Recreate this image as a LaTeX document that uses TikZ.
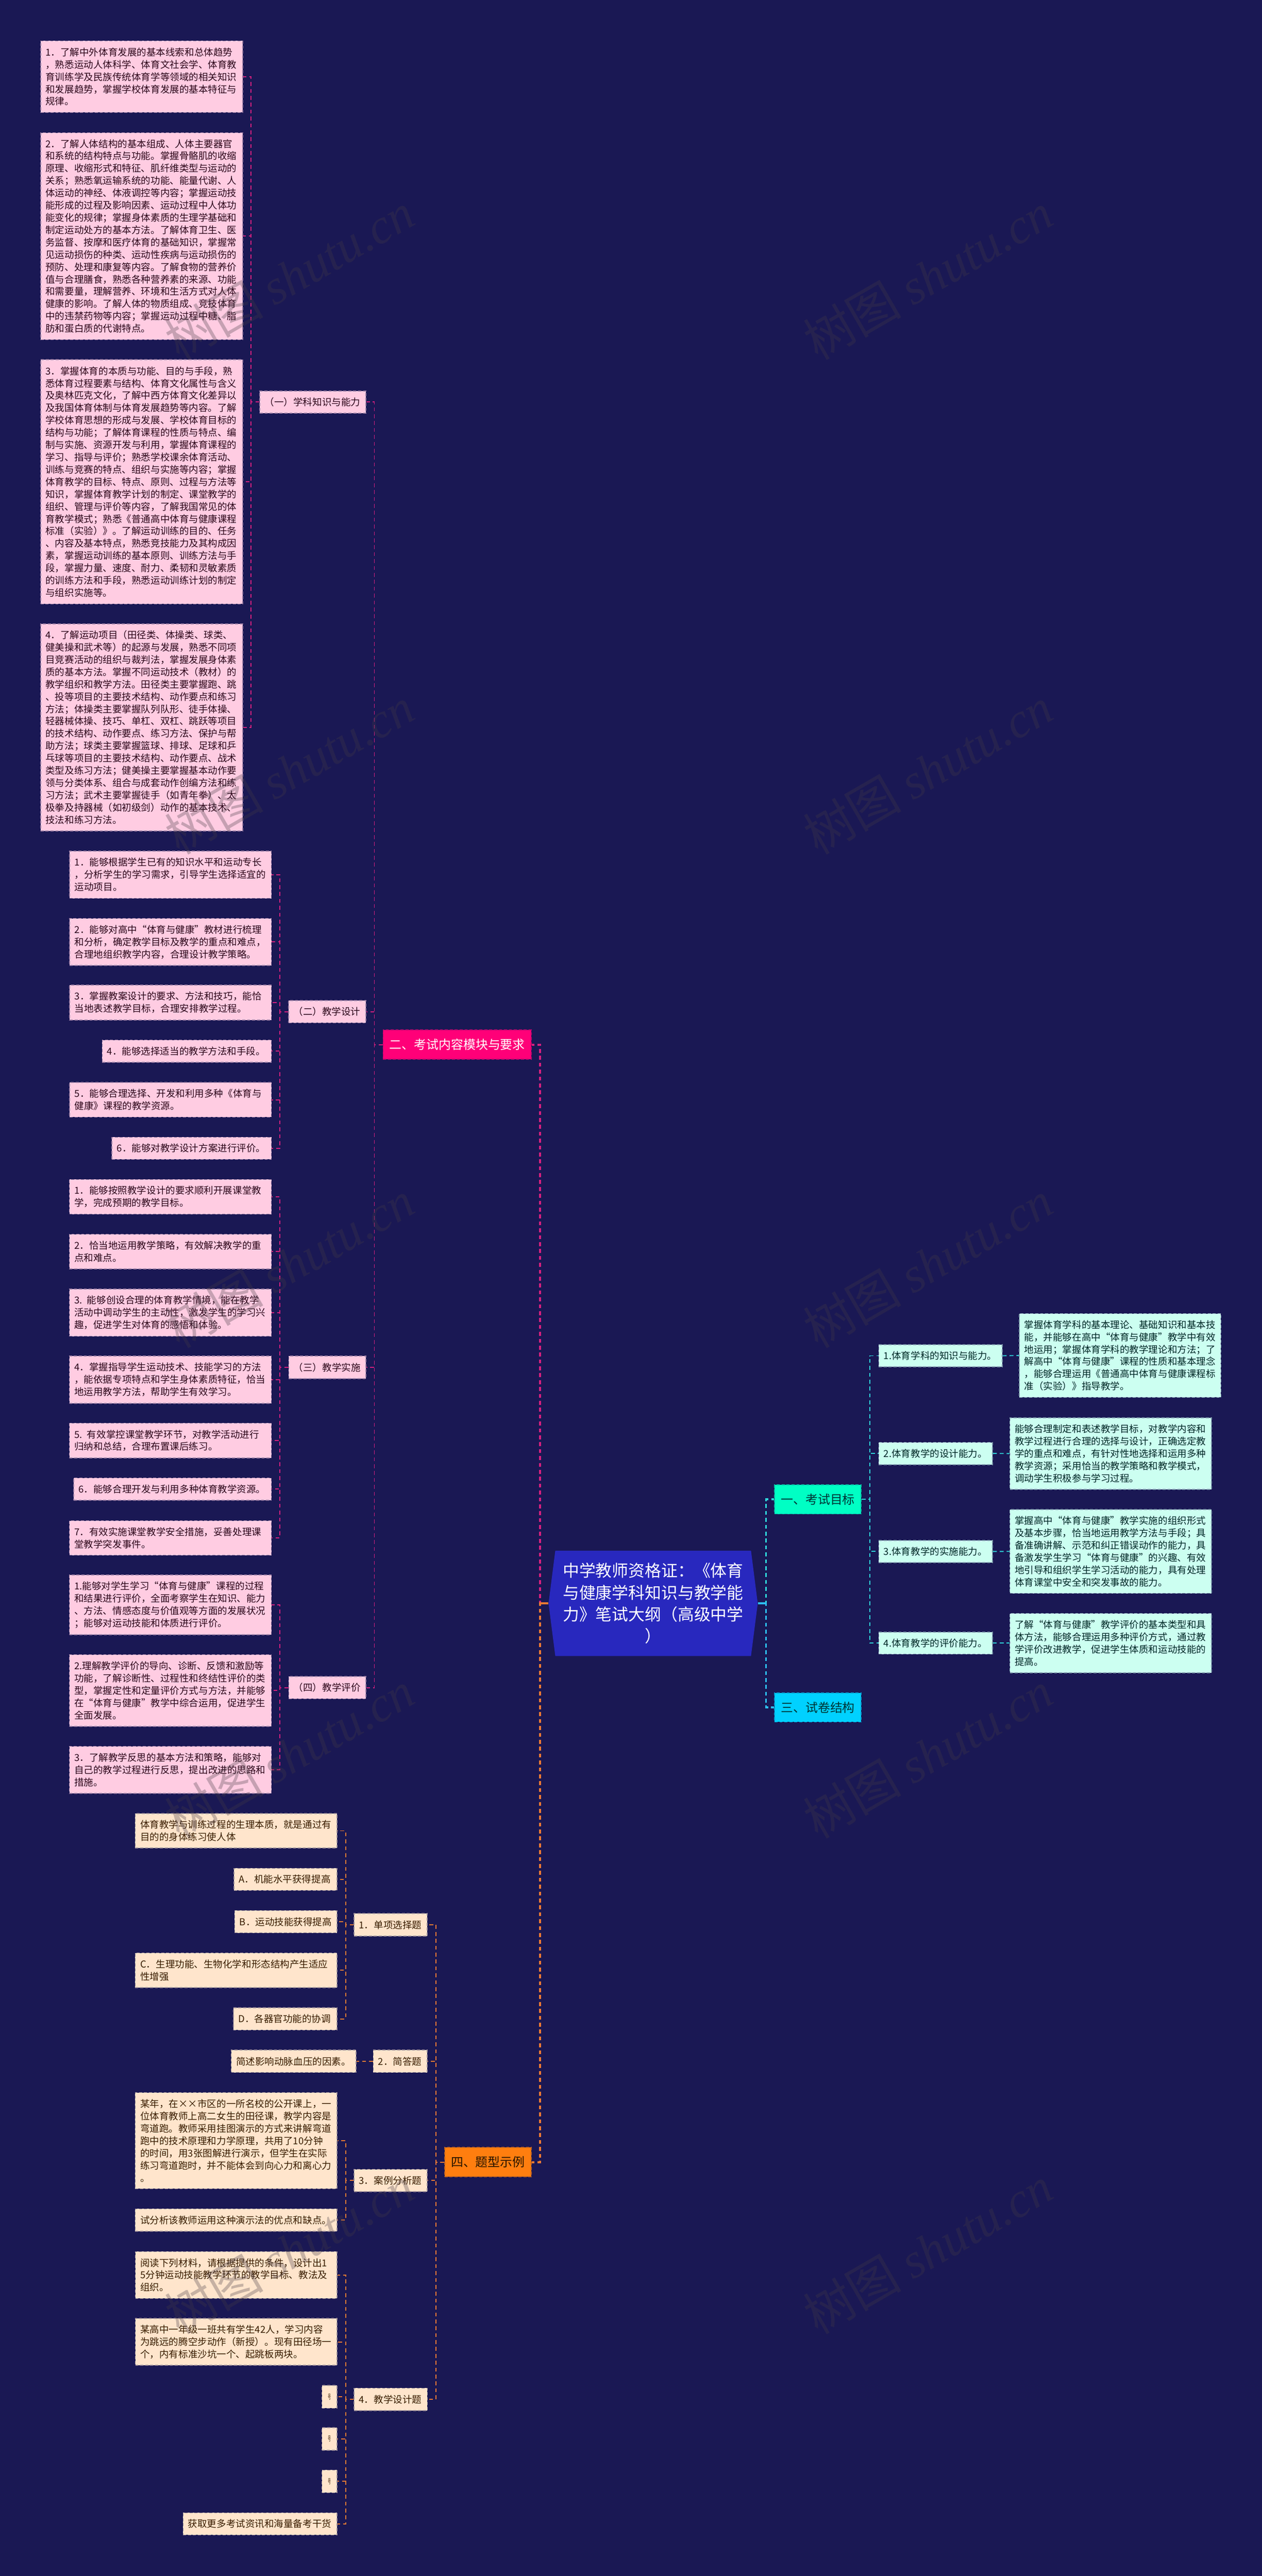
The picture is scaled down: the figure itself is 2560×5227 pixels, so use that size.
\documentclass[tikz,border=0pt]{standalone}
\usepackage{fontspec}
\usepackage{graphicx}
\setmainfont{Noto Sans CJK SC}
\newfontfamily\wmlatin{Liberation Serif}[ItalicFont=* Italic]
\definecolor{bgc}{HTML}{1A1854}
\definecolor{pinkbox}{HTML}{FFCCE2}
\definecolor{peachbox}{HTML}{FFE5CC}
\definecolor{mintbox}{HTML}{CCFFF1}
\definecolor{pinkmain}{HTML}{FF0078}
\definecolor{orangemain}{HTML}{FF7E0F}
\definecolor{mintmain}{HTML}{00FFC4}
\definecolor{cyanmain}{HTML}{00D1FF}
\definecolor{pinkline}{HTML}{D6207F}
\definecolor{orangeline}{HTML}{EC7A33}
\definecolor{tealline}{HTML}{2FD6DA}
\definecolor{cyanline}{HTML}{2DBEF0}
\definecolor{rootfill}{HTML}{2828BE}
\definecolor{wmc}{HTML}{443C46}
\tikzset{
  x=1pt,y=-1pt,
  wire/.style={line width=2pt,dash pattern=on 8pt off 6pt},
  wiremain/.style={line width=4pt,dash pattern=on 8pt off 6pt},
  solidstub/.style={line width=4pt},
  boxbase/.style={rectangle,inner xsep=10pt,inner ysep=0pt,align=left,line width=1.6pt,
    dash pattern=on 6pt off 4pt,font=\fontsize{19.4}{25}\selectfont},
  pinkbx/.style={boxbase,fill=pinkbox,draw=pinkbox!55!bgc,text=black!80!pinkline},
  peachbx/.style={boxbase,fill=peachbox,draw=peachbox!55!bgc,text=black!78!orange},
  mintbx/.style={boxbase,fill=mintbox,draw=mintbox!55!bgc,text=black!70!teal},
  mainbase/.style={rectangle,inner xsep=6pt,inner ysep=0pt,align=center,line width=1.6pt,
    dash pattern=on 6pt off 4pt,font=\fontsize{25}{32}\selectfont},
  mainpink/.style={mainbase,fill=pinkmain,draw=pinkmain!70!bgc,text=white},
  mainorange/.style={mainbase,fill=orangemain,draw=orangemain!70!bgc,text=black!85!orange},
  mainmint/.style={mainbase,fill=mintmain,draw=mintmain!70!bgc,text=black!60!teal},
  maincyan/.style={mainbase,fill=cyanmain,draw=cyanmain!70!bgc,text=black!60!teal},
  rootnode/.style={rectangle,inner xsep=26pt,inner ysep=0pt,align=center,text=white,
    font=\fontsize{33.3}{44}\selectfont},
  wmark/.style={rotate=30,anchor=west,text=wmc,opacity=.3,inner sep=0pt,
    font=\fontsize{100}{110}\selectfont},
}
% name, style, x1,y1,x2,y2, text
\newcommand{\bx}[7]{%
  \pgfmathsetmacro{\bxw}{#5-#3}%
  \pgfmathsetmacro{\bxh}{#6-#4}%
  \pgfmathsetmacro{\bxcx}{(#3+#5)/2}%
  \pgfmathsetmacro{\bxcy}{(#4+#6)/2}%
  \node[#2,minimum width=\bxw pt,minimum height=\bxh pt,text width=\bxw pt-20pt] (#1) at (\bxcx,\bxcy) {#7};}
\newcommand{\mainbx}[7]{%
  \pgfmathsetmacro{\bxw}{#5-#3}%
  \pgfmathsetmacro{\bxh}{#6-#4}%
  \pgfmathsetmacro{\bxcx}{(#3+#5)/2}%
  \pgfmathsetmacro{\bxcy}{(#4+#6)/2}%
  \node[#2,minimum width=\bxw pt,minimum height=\bxh pt] (#1) at (\bxcx,\bxcy) {#7};}
% style, parent, bus, child: child to the left of its parent
\newcommand{\lnk}[4]{\draw[#1] (#2.west) -- (#2.west -| #3) -- (#3 |- #4.east) -- (#4.east);}
% style, parent, bus, child: child to the right of its parent
\newcommand{\rnk}[4]{\draw[#1] (#2.east) -- (#2.east -| #3) -- (#3 |- #4.west) -- (#4.west);}
\begin{document}
\begin{tikzpicture}
\useasboundingbox (0,0) rectangle (2560,5227);
\fill[bgc] (0,0) rectangle (2560,5227);
\coordinate (bA) at (509.5,0);
\coordinate (bB) at (567.5,0);
\coordinate (bC) at (759.5,0);
\coordinate (bD) at (1095.5,0);
\coordinate (bE) at (1554,0);
\coordinate (bF) at (1764.8,0);
\coordinate (bG) at (701,0);
\coordinate (bH) at (884.3,0);

% root
\fill[rootfill] (1126.5,3146.4) -- (1523.5,3146.4) -- (1537.2,3253.4) -- (1523.5,3360.3) -- (1126.5,3360.3) -- (1112.8,3253.4) -- cycle;
\mainbx{root}{rootnode}{1112.8}{3146.4}{1537.2}{3360.3}{中学教师资格证：《体育\\与健康学科知识与教学能\\力》笔试大纲（高级中学\\）}

% main branches
\mainbx{mB}{mainpink}{777}{2090}{1078}{2149.5}{二、考试内容模块与要求}
\mainbx{mD}{mainorange}{902}{4357.3}{1077.7}{4417}{四、题型示例}
\mainbx{mA}{mainmint}{1571.4}{3012.9}{1747}{3072}{一、考试目标}
\mainbx{mC}{maincyan}{1571.4}{3435}{1747}{3494.2}{三、试卷结构}

% section 1
\bx{s1}{pinkbx}{527}{793.2}{742.3}{838.2}{（一）学科知识与能力}
\bx{s1a}{pinkbx}{82.4}{83.1}{492.6}{228.4}{1．了解中外体育发展的基本线索和总体趋势\\，熟悉运动人体科学、体育文社会学、体育教\\育训练学及民族传统体育学等领域的相关知识\\和发展趋势，掌握学校体育发展的基本特征与\\规律。}
\bx{s1b}{pinkbx}{82.4}{269.2}{492.6}{689.2}{2．了解人体结构的基本组成、人体主要器官\\和系统的结构特点与功能。掌握骨骼肌的收缩\\原理、收缩形式和特征、肌纤维类型与运动的\\关系；熟悉氧运输系统的功能、能量代谢、人\\体运动的神经、体液调控等内容；掌握运动技\\能形成的过程及影响因素、运动过程中人体功\\能变化的规律；掌握身体素质的生理学基础和\\制定运动处方的基本方法。了解体育卫生、医\\务监督、按摩和医疗体育的基础知识，掌握常\\见运动损伤的种类、运动性疾病与运动损伤的\\预防、处理和康复等内容。了解食物的营养价\\值与合理膳食，熟悉各种营养素的来源、功能\\和需要量，理解营养、环境和生活方式对人体\\健康的影响。了解人体的物质组成、竞技体育\\中的违禁药物等内容；掌握运动过程中糖、脂\\肪和蛋白质的代谢特点。}
\bx{s1c}{pinkbx}{82.4}{729.6}{492.6}{1225.7}{3．掌握体育的本质与功能、目的与手段，熟\\悉体育过程要素与结构、体育文化属性与含义\\及奥林匹克文化，了解中西方体育文化差异以\\及我国体育体制与体育发展趋势等内容。了解\\学校体育思想的形成与发展、学校体育目标的\\结构与功能；了解体育课程的性质与特点、编\\制与实施、资源开发与利用，掌握体育课程的\\学习、指导与评价；熟悉学校课余体育活动、\\训练与竞赛的特点、组织与实施等内容；掌握\\体育教学的目标、特点、原则、过程与方法等\\知识，掌握体育教学计划的制定、课堂教学的\\组织、管理与评价等内容，了解我国常见的体\\育教学模式；熟悉《普通高中体育与健康课程\\标准（实验）》。了解运动训练的目的、任务\\、内容及基本特点，熟悉竞技能力及其构成因\\素，掌握运动训练的基本原则、训练方法与手\\段，掌握力量、速度、耐力、柔韧和灵敏素质\\的训练方法和手段，熟悉运动训练计划的制定\\与组织实施等。}
\bx{s1d}{pinkbx}{82.4}{1265.7}{492.6}{1686}{4．了解运动项目（田径类、体操类、球类、\\健美操和武术等）的起源与发展，熟悉不同项\\目竞赛活动的组织与裁判法，掌握发展身体素\\质的基本方法。掌握不同运动技术（教材）的\\教学组织和教学方法。田径类主要掌握跑、跳\\、投等项目的主要技术结构、动作要点和练习\\方法；体操类主要掌握队列队形、徒手体操、\\轻器械体操、技巧、单杠、双杠、跳跃等项目\\的技术结构、动作要点、练习方法、保护与帮\\助方法；球类主要掌握篮球、排球、足球和乒\\乓球等项目的主要技术结构、动作要点、战术\\类型及练习方法；健美操主要掌握基本动作要\\领与分类体系、组合与成套动作创编方法和练\\习方法；武术主要掌握徒手（如青年拳）、太\\极拳及持器械（如初级剑）动作的基本技术、\\技法和练习方法。}

% section 2
\bx{s2}{pinkbx}{585.5}{2030}{742.3}{2075.5}{（二）教学设计}
\bx{s2a}{pinkbx}{141.4}{1726.9}{550.4}{1822.7}{1．能够根据学生已有的知识水平和运动专长\\，分析学生的学习需求，引导学生选择适宜的\\运动项目。}
\bx{s2b}{pinkbx}{141.4}{1863.5}{550.4}{1958.9}{2．能够对高中“体育与健康”教材进行梳理\\和分析，确定教学目标及教学的重点和难点，\\合理地组织教学内容，合理设计教学策略。}
\bx{s2c}{pinkbx}{141.4}{1998.8}{550.4}{2069.9}{3．掌握教案设计的要求、方法和技巧，能恰\\当地表述教学目标，合理安排教学过程。}
\bx{s2d}{pinkbx}{207.3}{2110.2}{550.4}{2155.8}{4．能够选择适当的教学方法和手段。}
\bx{s2e}{pinkbx}{141.4}{2196.5}{550.4}{2266.8}{5．能够合理选择、开发和利用多种《体育与\\健康》课程的教学资源。}
\bx{s2f}{pinkbx}{227}{2307.5}{550.4}{2352.6}{6．能够对教学设计方案进行评价。}

% section 3
\bx{s3}{pinkbx}{585.7}{2751.6}{742.3}{2797.6}{（三）教学实施}
\bx{s3a}{pinkbx}{140.8}{2393.4}{550.5}{2463.6}{1．能够按照教学设计的要求顺利开展课堂教\\学，完成预期的教学目标。}
\bx{s3b}{pinkbx}{140.8}{2504.4}{550.5}{2575}{2．恰当地运用教学策略，有效解决教学的重\\点和难点。}
\bx{s3c}{pinkbx}{140.8}{2615.4}{550.5}{2711.3}{3. 能够创设合理的体育教学情境，能在教学\\活动中调动学生的主动性，激发学生的学习兴\\趣，促进学生对体育的感悟和体验。}
\bx{s3d}{pinkbx}{140.8}{2751.6}{550.5}{2847.4}{4．掌握指导学生运动技术、技能学习的方法\\，能依据专项特点和学生身体素质特征，恰当\\地运用教学方法，帮助学生有效学习。}
\bx{s3e}{pinkbx}{140.8}{2887.7}{550.5}{2958.4}{5. 有效掌控课堂教学环节，对教学活动进行\\归纳和总结，合理布置课后练习。}
\bx{s3f}{pinkbx}{149.5}{2998.8}{550.5}{3044.3}{6．能够合理开发与利用多种体育教学资源。}
\bx{s3g}{pinkbx}{140.8}{3085.5}{550.5}{3155.7}{7．有效实施课堂教学安全措施，妥善处理课\\堂教学突发事件。}

% section 4
\bx{s4}{pinkbx}{585.7}{3401.6}{742.3}{3447}{（四）教学评价}
\bx{s4a}{pinkbx}{140.8}{3196}{550.5}{3317}{1.能够对学生学习“体育与健康”课程的过程\\和结果进行评价，全面考察学生在知识、能力\\、方法、情感态度与价值观等方面的发展状况\\；能够对运动技能和体质进行评价。}
\bx{s4b}{pinkbx}{140.8}{3357.4}{550.5}{3503}{2.理解教学评价的导向、诊断、反馈和激励等\\功能，了解诊断性、过程性和终结性评价的类\\型，掌握定性和定量评价方式与方法，并能够\\在“体育与健康”教学中综合运用，促进学生\\全面发展。}
\bx{s4c}{pinkbx}{140.8}{3543.4}{550.5}{3638.8}{3．了解教学反思的基本方法和策略，能够对\\自己的教学过程进行反思，提出改进的思路和\\措施。}

% question types
\bx{q1}{peachbx}{718.3}{3882.7}{866.8}{3928.7}{1．单项选择题}
\bx{q1s}{peachbx}{274.4}{3679.5}{683.6}{3750}{体育教学与训练过程的生理本质，就是通过有\\目的的身体练习使人体}
\bx{q1a}{peachbx}{474.4}{3790.9}{683.6}{3836}{A．机能水平获得提高}
\bx{q1b}{peachbx}{476}{3876.6}{683.6}{3922}{B．运动技能获得提高}
\bx{q1c}{peachbx}{274.4}{3962.7}{683.6}{4033}{C．生理功能、生物化学和形态结构产生适应\\性增强}
\bx{q1d}{peachbx}{473.3}{4073.7}{683.6}{4119.2}{D．各器官功能的协调}
\bx{q2}{peachbx}{757.3}{4159.8}{866.8}{4205.3}{2．简答题}
\bx{q2a}{peachbx}{469}{4159.8}{722.6}{4205.3}{简述影响动脉血压的因素。}
\bx{q3}{peachbx}{718.3}{4401.7}{866.8}{4447.3}{3．案例分析题}
\bx{q3a}{peachbx}{274.4}{4246}{683.6}{4441.3}{某年，在××市区的一所名校的公开课上，一\\位体育教师上高二女生的田径课，教学内容是\\弯道跑。教师采用挂图演示的方式来讲解弯道\\跑中的技术原理和力学原理，共用了10分钟\\的时间，用3张图解进行演示，但学生在实际\\练习弯道跑时，并不能体会到向心力和离心力\\。}
\bx{q3b}{peachbx}{274.4}{4482}{683.6}{4527.3}{试分析该教师运用这种演示法的优点和缺点。}
\bx{q4}{peachbx}{718.3}{4845.7}{867}{4891.4}{4．教学设计题}
\bx{q4a}{peachbx}{274.6}{4568.7}{683.5}{4663.9}{阅读下列材料，请根据提供的条件，设计出1\\5分钟运动技能教学环节的教学目标、教法及\\组织。}
\bx{q4b}{peachbx}{274.6}{4704.2}{683.5}{4799.6}{某高中一年级一班共有学生42人，学习内容\\为跳远的腾空步动作（新授）。现有田径场一\\个，内有标准沙坑一个、起跳板两块。}
\mainbx{q4c}{peachbx,inner xsep=0pt,font=\fontsize{10}{12}\selectfont}{653}{4840.4}{683.5}{4886.5}{\scalebox{.6}[1.4]{号}}
\mainbx{q4d}{peachbx,inner xsep=0pt,font=\fontsize{10}{12}\selectfont}{653}{4926}{683.5}{4972}{\scalebox{.6}[1.4]{号}}
\mainbx{q4e}{peachbx,inner xsep=0pt,font=\fontsize{10}{12}\selectfont}{653}{5012}{683.5}{5058}{\scalebox{.6}[1.4]{号}}
\bx{q4f}{peachbx}{371.4}{5098.8}{683.5}{5143.7}{获取更多考试资讯和海量备考干货}

% objectives
\bx{o1}{mintbx}{1782.7}{2728.6}{2033.2}{2773.3}{1.体育学科的知识与能力。}
\bx{o1a}{mintbx}{2067.9}{2665.4}{2477}{2835.5}{掌握体育学科的基本理论、基础知识和基本技\\能，并能够在高中“体育与健康”教学中有效\\地运用；掌握体育学科的教学理论和方法；了\\解高中“体育与健康”课程的性质和基本理念\\，能够合理运用《普通高中体育与健康课程标\\准（实验）》指导教学。}
\bx{o2}{mintbx}{1782.7}{2926.6}{2013.3}{2971.8}{2.体育教学的设计能力。}
\bx{o2a}{mintbx}{2048.5}{2876.8}{2457.7}{3022}{能够合理制定和表述教学目标，对教学内容和\\教学过程进行合理的选择与设计，正确选定教\\学的重点和难点，有针对性地选择和运用多种\\教学资源；采用恰当的教学策略和教学模式，\\调动学生积极参与学习过程。}
\bx{o3}{mintbx}{1782.7}{3125.6}{2013.3}{3170.4}{3.体育教学的实施能力。}
\bx{o3a}{mintbx}{2048.5}{3062.9}{2457.7}{3233}{掌握高中“体育与健康”教学实施的组织形式\\及基本步骤，恰当地运用教学方法与手段；具\\备准确讲解、示范和纠正错误动作的能力，具\\备激发学生学习“体育与健康”的兴趣、有效\\地引导和组织学生学习活动的能力，具有处理\\体育课堂中安全和突发事故的能力。}
\bx{o4}{mintbx}{1782.7}{3311.6}{2013.3}{3356.4}{4.体育教学的评价能力。}
\bx{o4a}{mintbx}{2048.5}{3273.8}{2457.7}{3394.2}{了解“体育与健康”教学评价的基本类型和具\\体方法，能够合理运用多种评价方式，通过教\\学评价改进教学，促进学生体质和运动技能的\\提高。}

% connectors
\begin{scope}[pinkline]
\lnk{wiremain}{root}{bD}{mB}
\lnk{wire}{mB}{bC}{s1}\lnk{wire}{mB}{bC}{s2}\lnk{wire}{mB}{bC}{s3}\lnk{wire}{mB}{bC}{s4}
\lnk{wire}{s1}{bA}{s1a}\lnk{wire}{s1}{bA}{s1b}\lnk{wire}{s1}{bA}{s1c}\lnk{wire}{s1}{bA}{s1d}
\lnk{wire}{s2}{bB}{s2a}\lnk{wire}{s2}{bB}{s2b}\lnk{wire}{s2}{bB}{s2c}\lnk{wire}{s2}{bB}{s2d}\lnk{wire}{s2}{bB}{s2e}\lnk{wire}{s2}{bB}{s2f}
\lnk{wire}{s3}{bB}{s3a}\lnk{wire}{s3}{bB}{s3b}\lnk{wire}{s3}{bB}{s3c}\lnk{wire}{s3}{bB}{s3d}\lnk{wire}{s3}{bB}{s3e}\lnk{wire}{s3}{bB}{s3f}\lnk{wire}{s3}{bB}{s3g}
\lnk{wire}{s4}{bB}{s4a}\lnk{wire}{s4}{bB}{s4b}\lnk{wire}{s4}{bB}{s4c}
\end{scope}
\begin{scope}[orangeline]
\lnk{wiremain}{root}{bD}{mD}
\draw[solidstub] (root.west) -- (root.west -| bD);
\lnk{wire}{mD}{bH}{q1}\lnk{wire}{mD}{bH}{q2}\lnk{wire}{mD}{bH}{q3}\lnk{wire}{mD}{bH}{q4}
\lnk{wire}{q1}{bG}{q1s}\lnk{wire}{q1}{bG}{q1a}\lnk{wire}{q1}{bG}{q1b}\lnk{wire}{q1}{bG}{q1c}\lnk{wire}{q1}{bG}{q1d}
\draw[wire] (q2.west) -- (q2a.east);
\lnk{wire}{q3}{bG}{q3a}\lnk{wire}{q3}{bG}{q3b}
\lnk{wire}{q4}{bG}{q4a}\lnk{wire}{q4}{bG}{q4b}\lnk{wire}{q4}{bG}{q4c}\lnk{wire}{q4}{bG}{q4d}\lnk{wire}{q4}{bG}{q4e}\lnk{wire}{q4}{bG}{q4f}
\end{scope}
\begin{scope}[tealline]
\rnk{wiremain}{root}{bE}{mA}
\rnk{wire}{mA}{bF}{o1}\rnk{wire}{mA}{bF}{o2}\rnk{wire}{mA}{bF}{o3}\rnk{wire}{mA}{bF}{o4}
\draw[wire] (o1.east) -- (o1a.west);
\draw[wire] (o2.east) -- (o2a.west);
\draw[wire] (o3.east) -- (o3a.west);
\draw[wire] (o4.east) -- (o4a.west);
\end{scope}
\begin{scope}[cyanline]
\rnk{wiremain}{root}{bE}{mC}
\draw[solidstub] (root.east) -- (root.east -| bE);
\end{scope}

% watermark
\foreach \wx/\wn in {345/a,1640/b}{
  \foreach \wy/\wm in {700/a,1703/b,2705/c,3700/d,4705/e}{
    \node[wmark] (wm\wn\wm) at (\wx,\wy) {树图 {\wmlatin\itshape shutu.cn}};
  }
}
\end{tikzpicture}
\end{document}
